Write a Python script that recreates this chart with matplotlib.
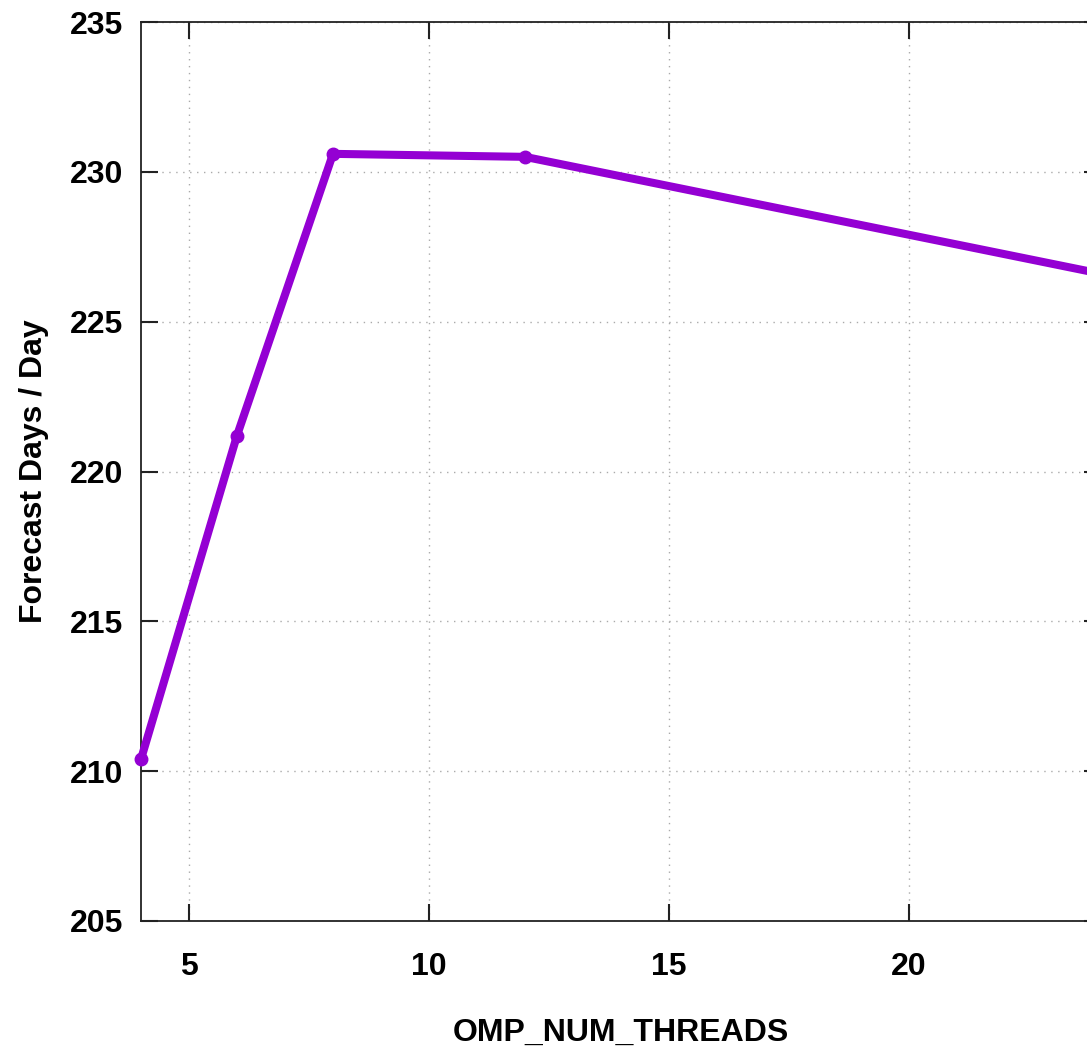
"""Forecast throughput vs OpenMP thread count."""

import matplotlib

matplotlib.use("Agg")
import matplotlib.pyplot as plt

threads = [4, 6, 8, 12, 24]
fcst_days_per_day = [210.4, 221.2, 230.6, 230.5, 226.6]

xticks = [5, 10, 15, 20]
yticks = [205, 210, 215, 220, 225, 230, 235]

plt.rcParams["font.family"] = ["Liberation Sans", "DejaVu Sans"]
plt.rcParams["font.weight"] = "bold"

fig = plt.figure(figsize=(10.87, 10.48), dpi=100)
# axes run past the right edge of the canvas (x max = 24)
ax = fig.add_axes([141 / 1087, 127 / 1048, 960 / 1087, 899 / 1048])

ax.plot(
    threads,
    fcst_days_per_day,
    color="#9400d3",
    linewidth=5.8,
    marker="o",
    markersize=9,
    solid_joinstyle="round",
    clip_on=False,
    zorder=3,
)

ax.set_xlim(4, 24)
ax.set_ylim(205, 235)
ax.set_xticks(xticks)
ax.set_yticks(yticks)
ax.tick_params(
    direction="in",
    length=12,
    width=1.5,
    labelsize=23,
    top=True,
    right=True,
    pad=13,
    colors="#222222",
    labelcolor="black",
)
ax.tick_params(axis="x", pad=22)
for sp in ax.spines.values():
    sp.set_linewidth(1.3)
    sp.set_color("#222222")

ax.grid(True, linestyle=(0, (1, 4)), color="#aaaaaa", linewidth=1.0)

ax.set_xlabel("OMP_NUM_THREADS", fontsize=23, fontweight="bold", labelpad=26)
ax.set_ylabel("Forecast Days / Day", fontsize=23, fontweight="bold", labelpad=15)

fig.savefig("out.png", dpi=100, facecolor="white")
